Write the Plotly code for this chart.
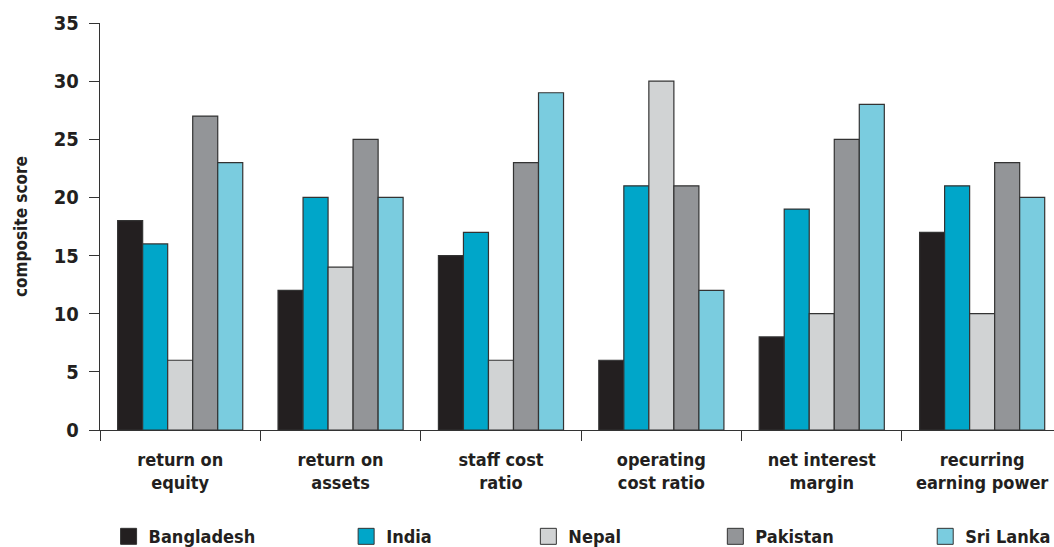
import plotly.graph_objects as go

categories = [
    "return on<br>equity",
    "return on<br>assets",
    "staff cost<br>ratio",
    "operating<br>cost ratio",
    "net interest<br>margin",
    "recurring<br>earning power",
]
countries = ["Bangladesh", "India", "Nepal", "Pakistan", "Sri Lanka"]
bangladesh = [18, 12, 15, 6, 8, 17]
india = [16, 20, 17, 21, 19, 21]
nepal = [6, 14, 6, 30, 10, 10]
pakistan = [27, 25, 23, 21, 25, 23]
sri_lanka = [23, 20, 29, 12, 28, 20]
y_ticks = [0, 5, 10, 15, 20, 25, 30, 35]

series = [bangladesh, india, nepal, pakistan, sri_lanka]
colors = ["#231f20", "#00a6c9", "#d1d3d4", "#939598", "#7accdf"]
legend_x = [0.009, 0.258, 0.449, 0.645, 0.865]

FONT = "DejaVu Sans Condensed, Liberation Sans Narrow, Liberation Sans, sans-serif"
TXT = "#231f20"

fig = go.Figure()
for i, (name, vals, col) in enumerate(zip(countries, series, colors)):
    fig.add_trace(go.Bar(
        x=categories, y=vals, name=name, showlegend=False,
        marker=dict(color=col, line=dict(color="#333333", width=1.2)),
    ))
    lg = "legend" if i == 0 else f"legend{i + 1}"
    # legend proxy with a larger square swatch
    fig.add_trace(go.Scatter(
        x=[None], y=[None], mode="markers", name=name, legend=lg,
        marker=dict(symbol="square", size=16, color=col,
                    line=dict(color="#333333", width=1)),
    ))

layout_legends = {}
for i, lx in enumerate(legend_x):
    key = "legend" if i == 0 else f"legend{i + 1}"
    layout_legends[key] = dict(
        x=lx, y=-0.262, xref="paper", yref="paper",
        xanchor="left", yanchor="middle", orientation="h",
        font=dict(family=FONT, size=18, color=TXT, weight="bold"),
        bgcolor="rgba(0,0,0,0)", itemwidth=30,
    )

fig.update_layout(
    width=1054, height=547,
    margin=dict(l=100, r=0, t=23, b=117, autoexpand=False),
    paper_bgcolor="white", plot_bgcolor="white",
    barmode="group", bargap=0.22, bargroupgap=0,
    font=dict(family=FONT, color=TXT, weight="bold"),
    **layout_legends,
)

fig.update_xaxes(
    type="category", range=[-0.5, 5.448],
    showline=True, linecolor="#333333", linewidth=1.2,
    ticks="outside", tickson="boundaries", ticklen=10, tickwidth=1.2,
    tickcolor="#333333", showgrid=False, zeroline=False,
    ticklabelstandoff=13,
    tickfont=dict(family=FONT, size=18, color=TXT, weight="bold"),
)
fig.update_yaxes(
    range=[0, 35], tickvals=y_ticks,
    showline=True, linecolor="#333333", linewidth=1.2,
    ticks="outside", ticklen=10, tickwidth=1.2, tickcolor="#333333",
    showgrid=False, zeroline=False,
    ticklabelstandoff=6,
    tickfont=dict(family=FONT, size=20, color=TXT, weight="bold"),
    title=dict(text="composite score", standoff=21,
               font=dict(family=FONT, size=17, color=TXT, weight="bold")),
)

fig.write_html("out.html")
